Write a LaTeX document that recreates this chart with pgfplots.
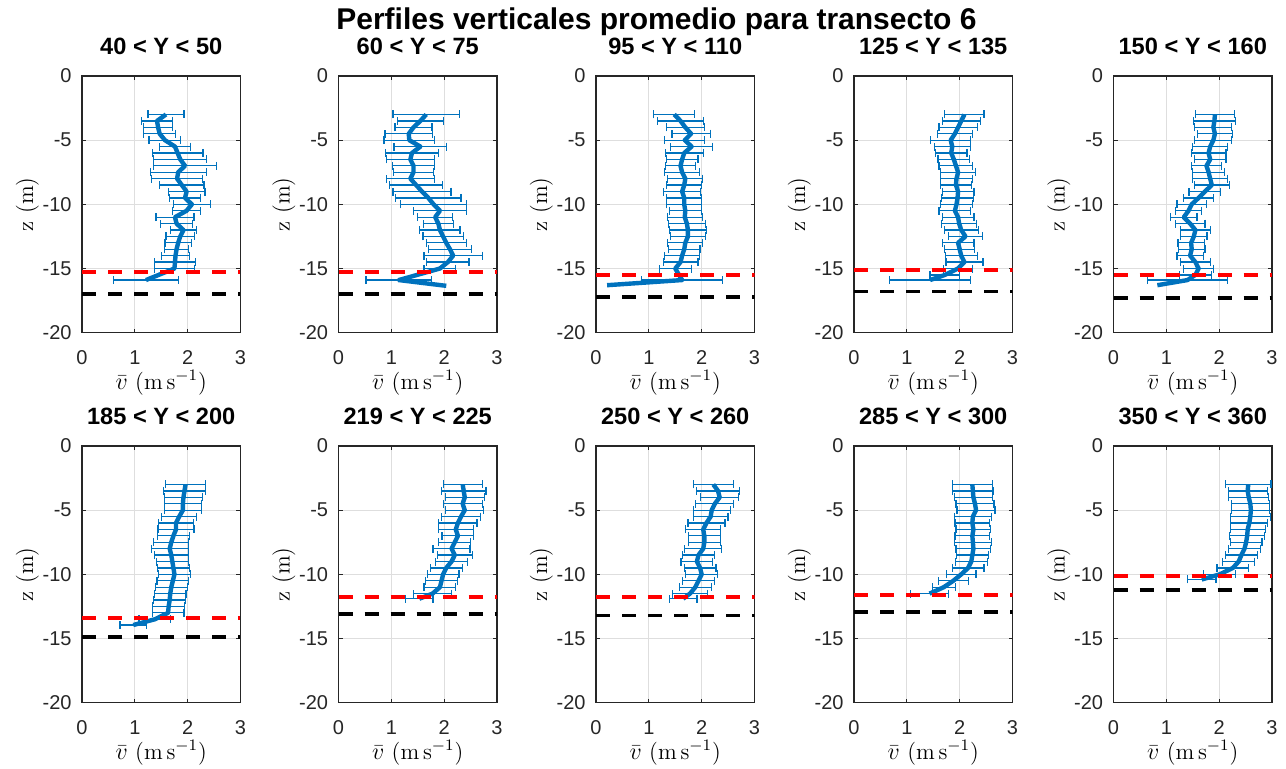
\documentclass[border=0pt]{standalone}
\usepackage{fontspec}
\usepackage{pgfplots}
\usepackage{pgfplotstable}
\pgfplotsset{compat=1.18}
\newfontfamily\arial{Liberation Sans}
\definecolor{mblue}{rgb}{0,0.447,0.741}
\definecolor{axgray}{gray}{0.15}
\definecolor{grgray}{gray}{0.87}

% velocity profiles: depth z (m), mean velocity v (m/s), half-width e of the error bar
\pgfplotstableread{
z v e
-3 1.59 0.34
-3.5 1.42 0.30
-4 1.44 0.27
-4.5 1.47 0.30
-5 1.57 0.30
-5.5 1.76 0.30
-6 1.81 0.48
-6.5 1.86 0.50
-7 1.95 0.60
-7.5 1.82 0.53
-8 1.80 0.48
-8.5 1.89 0.42
-9 1.98 0.35
-9.5 1.95 0.30
-10 2.08 0.35
-10.5 1.98 0.26
-11 1.76 0.36
-11.5 1.79 0.30
-12 1.92 0.25
-12.5 1.86 0.27
-13 1.82 0.25
-13.5 1.79 0.23
-14 1.77 0.27
-14.5 1.76 0.39
-15 1.75 0.38
-15.9 1.21 0.62
}\tabA
\pgfplotstableread{
z v e
-3 1.66 0.63
-3.5 1.55 0.44
-4 1.42 0.35
-4.5 1.33 0.45
-5 1.34 0.48
-5.5 1.55 0.50
-6 1.39 0.50
-6.5 1.36 0.45
-7 1.42 0.40
-7.5 1.42 0.38
-8 1.36 0.45
-8.5 1.47 0.50
-9 1.58 0.55
-9.5 1.70 0.62
-10 1.80 0.62
-10.5 1.92 0.50
-11 1.83 0.33
-11.5 1.89 0.28
-12 1.92 0.38
-12.5 1.98 0.38
-13 2.04 0.38
-13.5 2.11 0.40
-14 2.17 0.55
-14.5 2.07 0.40
-15 1.92 0.30
-15.9 1.14 0.62
-16.35 2.04 0
}\tabB
\pgfplotstableread{
z v e
-3 1.48 0.39
-3.5 1.60 0.44
-4 1.69 0.36
-4.5 1.80 0.36
-5 1.68 0.38
-5.5 1.81 0.40
-6 1.67 0.36
-6.5 1.63 0.30
-7 1.60 0.28
-7.5 1.63 0.33
-8 1.69 0.33
-8.5 1.67 0.33
-9 1.63 0.35
-9.5 1.67 0.33
-10 1.67 0.33
-10.5 1.69 0.30
-11 1.68 0.33
-11.5 1.72 0.35
-12 1.74 0.35
-12.5 1.74 0.33
-13 1.69 0.33
-13.5 1.67 0.30
-14 1.63 0.33
-14.5 1.60 0.33
-15 1.50 0.30
-15.9 1.63 0.77
-16.3 0.21 0
}\tabC
\pgfplotstableread{
z v e
-3 2.09 0.37
-3.5 2.03 0.36
-4 1.97 0.36
-4.5 1.91 0.33
-5 1.83 0.38
-5.5 1.86 0.34
-6 1.84 0.30
-6.5 1.89 0.30
-7 1.93 0.32
-7.5 1.97 0.33
-8 1.94 0.30
-8.5 1.93 0.30
-9 1.97 0.30
-9.5 1.96 0.30
-10 1.94 0.30
-10.5 1.91 0.30
-11 1.97 0.30
-11.5 1.99 0.33
-12 2.03 0.32
-12.5 2.11 0.32
-13 1.97 0.30
-13.5 2.00 0.28
-14 2.03 0.30
-14.5 2.09 0.35
-15 1.97 0.28
-15.5 1.72 0.28
-15.9 1.44 0.77
}\tabD
\pgfplotstableread{
z v e
-3 1.92 0.37
-3.5 1.91 0.40
-4 1.89 0.35
-4.5 1.92 0.33
-5 1.89 0.35
-5.5 1.83 0.33
-6 1.80 0.33
-6.5 1.83 0.30
-7 1.76 0.28
-7.5 1.80 0.30
-8 1.83 0.33
-8.5 1.86 0.33
-9 1.73 0.30
-9.5 1.61 0.28
-10 1.48 0.28
-10.5 1.42 0.25
-11 1.33 0.25
-11.5 1.45 0.28
-12 1.55 0.28
-12.5 1.52 0.25
-13 1.47 0.25
-13.5 1.48 0.25
-14 1.45 0.25
-14.5 1.55 0.28
-15 1.61 0.28
-15.5 1.55 0.30
-15.9 1.40 0.76
-16.3 0.83 0
}\tabE
\pgfplotstableread{
z v e
-3 1.96 0.38
-3.5 1.94 0.40
-4 1.92 0.36
-4.5 1.91 0.35
-5 1.91 0.35
-5.5 1.84 0.33
-6 1.78 0.33
-6.5 1.78 0.34
-7 1.73 0.30
-7.5 1.69 0.33
-8 1.66 0.35
-8.5 1.69 0.32
-9 1.71 0.30
-9.5 1.73 0.30
-10 1.75 0.30
-10.5 1.72 0.30
-11 1.69 0.30
-11.5 1.67 0.30
-12 1.66 0.30
-12.5 1.64 0.30
-13 1.63 0.30
-13.5 1.38 0.30
-13.95 0.97 0.25
}\tabF
\pgfplotstableread{
z v e
-3 2.35 0.37
-3.5 2.37 0.42
-4 2.39 0.37
-4.5 2.35 0.37
-5 2.39 0.36
-5.5 2.32 0.37
-6 2.26 0.36
-6.5 2.22 0.33
-7 2.26 0.30
-7.5 2.20 0.30
-8 2.14 0.35
-8.5 2.20 0.33
-9 2.14 0.30
-9.5 2.04 0.30
-10 1.98 0.30
-10.5 1.95 0.30
-11 1.92 0.30
-11.5 1.78 0.36
-11.9 1.53 0.26
}\tabG
\pgfplotstableread{
z v e
-3 2.22 0.38
-3.5 2.31 0.41
-4 2.34 0.36
-4.5 2.25 0.36
-5 2.19 0.35
-5.5 2.17 0.33
-6 2.09 0.35
-6.5 2.03 0.33
-7 2.05 0.30
-7.5 2.05 0.30
-8 2.03 0.35
-8.5 1.94 0.30
-9 1.91 0.30
-9.5 1.97 0.30
-10 2.00 0.30
-10.5 1.94 0.30
-11 1.88 0.30
-11.5 1.78 0.33
-11.9 1.65 0.26
}\tabH
\pgfplotstableread{
z v e
-3 2.24 0.38
-3.5 2.25 0.38
-4 2.26 0.36
-4.5 2.29 0.36
-5 2.31 0.36
-5.5 2.25 0.35
-6 2.24 0.33
-6.5 2.26 0.33
-7 2.24 0.33
-7.5 2.25 0.35
-8 2.26 0.33
-8.5 2.24 0.30
-9 2.22 0.30
-9.5 2.16 0.30
-10 2.03 0.28
-10.5 1.88 0.28
-11 1.70 0.22
-11.5 1.43 0.36
}\tabI
\pgfplotstableread{
z v e
-3 2.55 0.43
-3.5 2.54 0.37
-4 2.56 0.38
-4.5 2.59 0.36
-5 2.60 0.36
-5.5 2.59 0.38
-6 2.57 0.35
-6.5 2.54 0.33
-7 2.53 0.33
-7.5 2.51 0.30
-8 2.48 0.30
-8.5 2.42 0.30
-9 2.37 0.30
-9.5 2.26 0.30
-10 2.01 0.30
-10.4 1.67 0.27
}\tabJ

\pgfplotsset{
  perfil/.style={
    scale only axis, width=79.25pt, height=128.35pt,
    xmin=0, xmax=3, ymin=-20, ymax=0,
    xtick={0,1,2,3}, ytick={-20,-15,-10,-5,0},
    xticklabels={0,1,2,3}, yticklabels={-20,-15,-10,-5,0},
    grid=major, major grid style={color=grgray, line width=0.5pt},
    axis line style={color=axgray, line width=0.7pt},
    tick style={color=axgray, line width=0.6pt},
    tick align=inside, major tick length=2pt,
    ticklabel style={font=\arial\fontsize{10}{12}\selectfont, text=axgray},
    yticklabel style={anchor=east, inner sep=0pt, xshift=-5pt},
    xticklabel style={anchor=north, inner sep=0pt, yshift=-8.6pt},
    title style={font=\arial\bfseries\fontsize{11.8}{14}\selectfont,
      at={(axis description cs:0.5,1)}, anchor=base, yshift=4.65pt},
    xlabel={$\bar{v}$ (m\,s$^{-1}$)},
    xlabel style={font=\fontsize{11.5}{14}\selectfont, inner sep=0pt,
      at={(axis description cs:0.5,0)}, anchor=base, yshift=-28.5pt},
    ylabel={z (m)},
    ylabel style={font=\fontsize{11.5}{14}\selectfont, inner sep=0pt,
      at={(axis description cs:-0.345,0.5)}, anchor=center},
  }
}

% #1,#2 position; #3 title; #4 table; #5 red level; #6 black level; #7 extra options for the bars
\newcommand\perfil[7]{%
  \begin{axis}[perfil, at={(#1,#2)}, anchor=south west, title={#3}]
    \addplot[draw=none, mark=none, #7,
      error bars/.cd, x dir=both, x explicit, error mark=|,
      error bar style={draw=mblue, line width=0.6pt},
      error mark options={draw=mblue, line width=0.6pt, mark size=2pt}]
      table[x=v, y=z, x error=e] {#4};
    \addplot[mblue, line width=2.2pt, line join=round, mark=none] table[x=v, y=z] {#4};
    \addplot[red, line width=2pt, mark=none, dash pattern=on 7pt off 6pt] coordinates {(0,#5) (3,#5)};
    \addplot[black, line width=1.8pt, mark=none, dash pattern=on 7pt off 6pt] coordinates {(0,#6) (3,#6)};
  \end{axis}}

\begin{document}
\begin{tikzpicture}
\path[use as bounding box] (0,0) rectangle (643pt,384.5pt);
\node[font=\arial\bfseries\fontsize{15}{18}\selectfont, anchor=base]
  at (328.25pt,369.5pt) {Perfiles verticales promedio para transecto 6};
\perfil{41pt}{218.15pt}{40 < Y < 50}{\tabA}{-15.3}{-17.0}{}
\perfil{169.25pt}{218.15pt}{60 < Y < 75}{\tabB}{-15.3}{-17.0}{skip coords between index={26}{27}}
\perfil{298pt}{218.15pt}{95 < Y < 110}{\tabC}{-15.5}{-17.2}{skip coords between index={26}{27}}
\perfil{427pt}{218.15pt}{125 < Y < 135}{\tabD}{-15.1}{-16.8}{}
\perfil{556.75pt}{218.15pt}{150 < Y < 160}{\tabE}{-15.5}{-17.3}{skip coords between index={27}{28}}
\perfil{41pt}{33.15pt}{185 < Y < 200}{\tabF}{-13.4}{-14.9}{}
\perfil{169.25pt}{33.15pt}{219 < Y < 225}{\tabG}{-11.8}{-13.1}{}
\perfil{298pt}{33.15pt}{250 < Y < 260}{\tabH}{-11.8}{-13.2}{}
\perfil{427pt}{33.15pt}{285 < Y < 300}{\tabI}{-11.6}{-12.95}{}
\perfil{556.75pt}{33.15pt}{350 < Y < 360}{\tabJ}{-10.1}{-11.2}{}
\end{tikzpicture}
\end{document}
